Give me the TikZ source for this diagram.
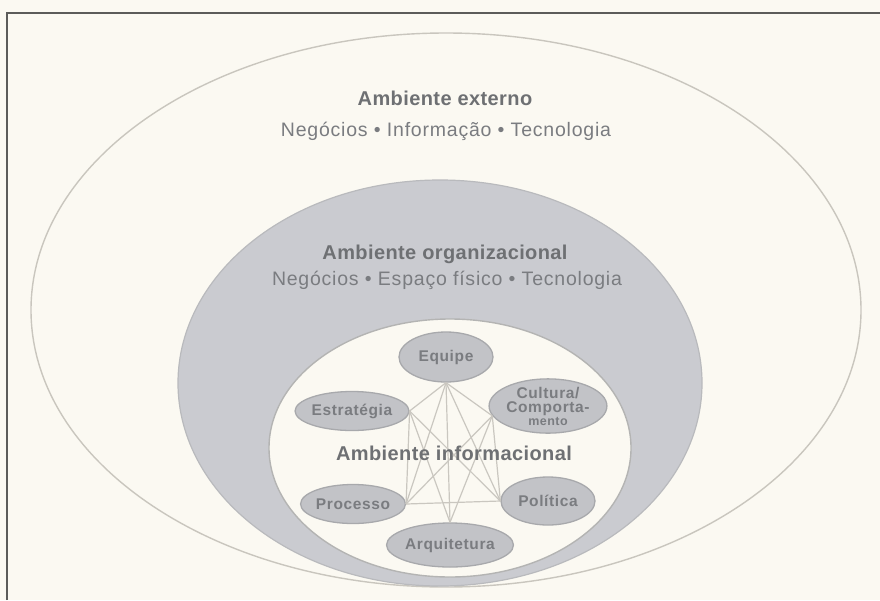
\documentclass[tikz,border=0pt]{standalone}
\usepackage{fontspec}
\setmainfont{Liberation Sans}
\newfontfamily\titlefont[LetterSpace=2]{Liberation Sans}
\newfontfamily\subfont[LetterSpace=4]{Liberation Sans}
\newfontfamily\nodefont[LetterSpace=4]{Liberation Sans}
\usetikzlibrary{shapes.geometric}

\definecolor{paper}{HTML}{FBF9F2}
\definecolor{frameline}{HTML}{5C5C5A}
\definecolor{ringline}{HTML}{C9C6BE}
\definecolor{orgfill}{HTML}{CACBD0}
\definecolor{orgline}{HTML}{B9BABD}
\definecolor{infoline}{HTML}{B4B4B3}
\definecolor{nodefill}{HTML}{C2C3C7}
\definecolor{nodeline}{HTML}{A8A9AC}
\definecolor{linkline}{HTML}{CAC7C0}
\definecolor{textgrey}{HTML}{7A7C80}
\definecolor{titlegrey}{HTML}{6E7073}

\tikzset{
  ttl/.style={text=titlegrey, inner sep=0pt,
    font=\titlefont\bfseries\fontsize{20}{22}\selectfont},
  subttl/.style={text=textgrey, inner sep=0pt,
    font=\subfont\fontsize{19.5}{21}\selectfont},
  factor/.style={ellipse, draw=nodeline, line width=1.3pt, fill=nodefill,
    inner sep=0pt, text=textgrey, align=center,
    font=\nodefont\bfseries\fontsize{15.5}{17}\selectfont},
  link/.style={draw=linkline, line width=1.2pt}
}

\begin{document}
\begin{tikzpicture}[x=1pt,y=-1pt]
  \useasboundingbox (0,0) rectangle (880,600);
  \fill[paper] (0,0) rectangle (880,600);

  % frame (top and left edges)
  \draw[frameline, line width=2.2pt] (7,600) -- (7,13) -- (880,13);

  % external environment
  \draw[ringline, line width=1.4pt] (446,310) ellipse [x radius=415, y radius=277];
  % organizational environment
  \draw[orgline, fill=orgfill, line width=1.2pt] (440,383) ellipse [x radius=262, y radius=203];
  % informational environment
  \draw[infoline, fill=paper, line width=1.4pt] (450,448) ellipse [x radius=181, y radius=129];

  % titles
  \node[ttl] (ext) at (445,98) {Ambiente externo};
  \node[subttl] (extsub) at (446,131) {Negócios • Informação • Tecnologia};
  \node[ttl] (org) at (445,254) {Ambiente organizacional};
  \node[subttl] (orgsub) at (447,280) {Negócios • Espaço físico • Tecnologia};

  % factors of the informational environment
  \node[factor, minimum width=94pt, minimum height=50pt] (eq)  at (446,357) {Equipe};
  \node[factor, minimum width=104pt, minimum height=39pt] (est) at (352,411) {Estratégia};
  \node[factor, minimum width=94pt, minimum height=54pt] (cul) at (548,406)
    {Cultura/\\[-3pt]Comporta-\\[-4pt]{\fontsize{12.5}{14}\selectfont mento}};
  \node[factor, minimum width=104pt, minimum height=39pt] (pro) at (353,504) {Processo};
  \node[factor, minimum width=94pt, minimum height=48pt] (pol) at (548,501) {Política};
  \node[factor, minimum width=110pt, minimum height=44pt] (arq) at (450,545) {Arquitetura};

  % links between the factors
  \draw[link] (eq.south) -- (est.east);
  \draw[link] (eq.south) -- (cul.190);
  \draw[link] (eq.south) -- (pro.east);
  \draw[link] (eq.south) -- (pol.west);
  \draw[link] (eq.south) -- (arq.north);
  \draw[link] (est.east) -- (pro.east);
  \draw[link] (est.east) -- (pol.west);
  \draw[link] (est.east) -- (arq.north);
  \draw[link] (cul.190) -- (pol.west);
  \draw[link] (cul.190) -- (pro.east);
  \draw[link] (cul.190) -- (arq.north);
  \draw[link] (pro.east) -- (pol.west);

  \node[ttl] (inf) at (454,453) {Ambiente informacional};
\end{tikzpicture}
\end{document}
